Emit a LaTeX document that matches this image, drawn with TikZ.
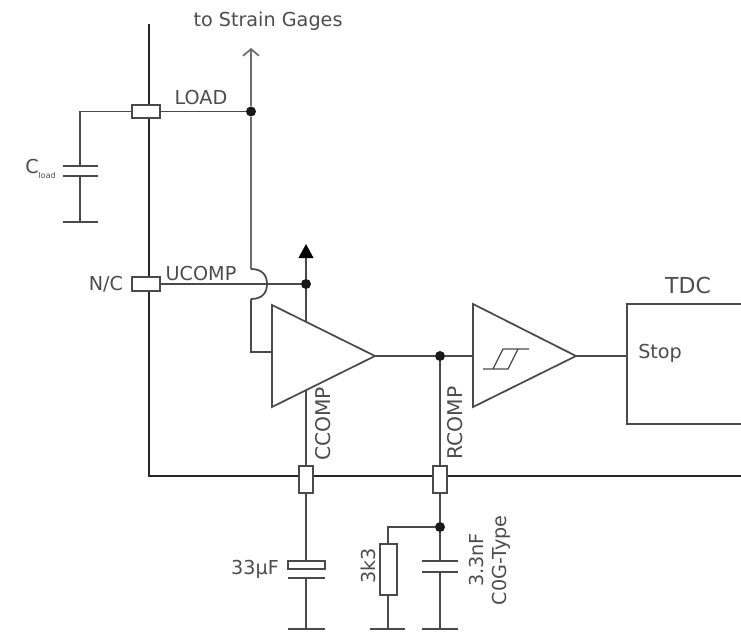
\documentclass[tikz,border=0pt]{standalone}
\usepackage{fontspec}
\setmainfont{DejaVu Sans}
\usetikzlibrary{arrows.meta}
\definecolor{wire}{HTML}{4A4A4A}
\definecolor{lab}{HTML}{4D4D4D}
\tikzset{
  x=0.75pt,y=-0.75pt,
  wireline/.style={draw=wire,line width=1.3pt},
  wirelight/.style={draw=wire!80!white,line width=1.7pt},
  busline/.style={draw=black!85,line width=2.1pt},
  plate/.style={draw=wire,line width=1.3pt},
  padh/.style={draw=wire,fill=white,line width=1.3pt,inner sep=0pt,minimum width=21pt,minimum height=10pt},
  padv/.style={draw=wire,fill=white,line width=1.3pt,inner sep=0pt,minimum width=11pt,minimum height=20pt},
  junction/.style={circle,fill=black!90,inner sep=0pt,minimum size=7.5pt},
  txt/.style={text=lab,font=\fontsize{14.4}{16}\selectfont,inner sep=0pt},
  txtv/.style={txt,rotate=90},
}
\begin{document}
\begin{tikzpicture}
\useasboundingbox (0,0) rectangle (741,631);
% bus
\coordinate (busT) at (149,24);
\coordinate (busC) at (149,476);
\coordinate (busR) at (741,476);
\draw[busline] (busT) -- (busC) -- (busR);
% coordinates
\coordinate (capLtop) at (80,111.5);
\coordinate (capLa) at (80,166);
\coordinate (capLb) at (80,176);
\coordinate (capLg) at (80,222);
\coordinate (jmpT) at (251,269);
\coordinate (jmpB) at (251,299);
\coordinate (fbk) at (251,352);
\coordinate (arrS) at (251,48);
\coordinate (arrU) at (306,244);
\node[junction] (jL) at (251,111.5) {};
\node[junction] (jU) at (306,284) {};
\node[junction] (jO) at (440,356) {};
\node[junction] (jR) at (440,527) {};
% pads
\node[padh] (pL) at (146,111.5) {};
\node[padh] (pU) at (146,284) {};
\node[padv] (pC) at (306,479.5) {};
\node[padv] (pR) at (440,479.5) {};
% wires
\draw[wireline] (pL.west) -- (capLtop) -- (capLa);
\draw[wireline] (capLb) -- (capLg);
\draw[plate] (63,166) -- (98,166) (63,176) -- (98,176) (63,222) -- (98,222);
\draw[wireline] (pL.east) -- (jL);
\draw[wirelight,-{Straight Barb[length=5pt,width=12pt,line width=1.3pt]}] (jL) -- (arrS);
\draw[wirelight] (jL) -- (jmpT);
\draw[wireline] (jmpT) .. controls (262,269) and (267,275) .. (267,284) .. controls (267,293) and (262,299) .. (jmpB);
\draw[wireline] (pU.east) -- (jU);
\draw[wireline] (jmpB) -- (fbk) -- (272,352);
\draw[wireline,-{Triangle[length=10.5pt,width=11pt,color=black]}] (jU) -- (arrU);
\draw[wireline] (jU) -- (306,322);
% amplifiers
\draw[wireline,fill=white,line join=miter] (272,305) -- (272,407) -- (375,356) -- cycle;
\coordinate (a1o) at (375,356);
\draw[wireline] (a1o) -- (jO) -- (473,356);
\draw[wireline,fill=white] (473,304) -- (473,407) -- (576,356) -- cycle;
\coordinate (a2o) at (576,356);
% hysteresis
\draw[draw=wire,line width=0.9pt] (483,369) -- (508,369) -- (518,349) -- (529,349) (518,349) -- (503,349) -- (493,369);
% TDC
\coordinate (tdcL) at (627,356);
\draw[wireline] (a2o) -- (tdcL);
\draw[wireline] (741,304) -- (627,304) -- (627,424) -- (741,424);
% bottom
\draw[wireline] (306,390) -- (pC.north);
\draw[wireline] (pC.south) -- (306,561);
\draw[wireline] (306,578) -- (306,629);
\draw[wireline,fill=white] (288,561) rectangle (325,569);
\draw[plate] (288,578) -- (325,578) (288,629) -- (325,629);
\draw[wireline] (jO) -- (pR.north);
\draw[wireline] (pR.south) -- (jR);
\draw[wireline] (jR) -- (440,561);
\draw[wireline] (440,572) -- (440,629);
\draw[plate] (422,561) -- (458,561) (422,572) -- (458,572) (422,629) -- (458,629);
\draw[wireline] (jR) -- (388,527) -- (388,544);
\draw[wireline] (388,595) -- (388,629);
\draw[wireline,fill=white] (380,544) rectangle (397,595);
\draw[plate] (370,629) -- (405,629);
% labels
\node[txt] (t1) at (268,21) {to Strain Gages};
\node[txt] (t2) at (201,98) {LOAD};
\node[txt] (t3) at (201,274) {UCOMP};
\node[txt] (t4) at (106,284) {N/C};
\node[txt,anchor=west] (t5) at (25,169) {C\raisebox{-0.45ex}{\fontsize{6}{7}\selectfont load}};
\node[txtv,font=\fontsize{15.2}{17}\selectfont] (t6) at (323,424) {CCOMP};
\node[txtv,font=\fontsize{15.2}{17}\selectfont] (t7) at (455,423) {RCOMP};
\node[txt] (t8) at (255,569) {33µF};
\node[txtv] (t9) at (368,566) {3k3};
\node[txtv] (t10) at (477,560) {3.3nF};
\node[txtv] (t11) at (501,560.5) {C0G-Type};
\node[txt,font=\fontsize{16.5}{18}\selectfont] (t12) at (688,285) {TDC};
\node[txt,anchor=west] (t13) at (638,353) {Stop};
\end{tikzpicture}
\end{document}
